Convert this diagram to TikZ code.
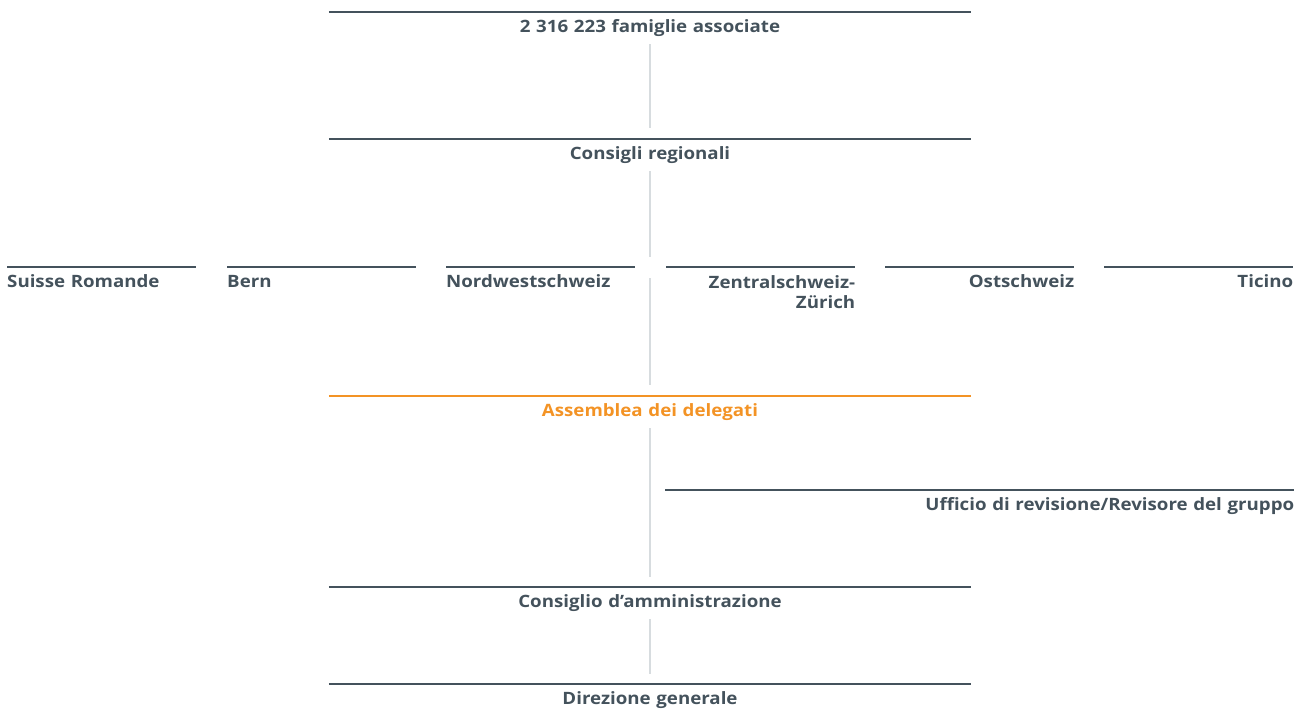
\documentclass[tikz,border=0pt]{standalone}
\usepackage{fontspec}
\setmainfont{Open Sans}[FakeStretch=1.1]
\usetikzlibrary{positioning}

\definecolor{slate}{HTML}{44525C}
\definecolor{delegati}{HTML}{F39325}
\definecolor{stem}{HTML}{D7DCDF}

\tikzset{
  organ/.style={anchor=north, inner xsep=0pt, inner ysep=8pt, text=slate,
    font=\bfseries\fontsize{17}{20.5}\selectfont},
  level/.style={organ, text width=642pt, align=center, text height=12pt, text depth=4pt},
  regionwrap/.style={organ, anchor=north west, text width=189pt},
  region/.style={regionwrap, text height=12pt, text depth=4pt},
  rule/.style={draw=slate, line width=2.6pt},
  stemline/.style={draw=stem, line width=2.4pt},
}

\begin{document}
\begin{tikzpicture}[x=1pt,y=-1pt]
\useasboundingbox (0,0) rectangle (1306,710);

% central column
\node[level] (fam) at (650,12) {2 316 223 famiglie associate};
\node[level] (cons) at (650,139) {Consigli regionali};
\node[level, text=delegati] (ad) at (650,396) {Assemblea dei delegati};
\node[level] (cda) at (650,587) {Consiglio d’amministrazione};
\node[level] (dg) at (650,684) {Direzione generale};

% regional councils
\node[region, align=left] (sr) at (7,267) {Suisse Romande};
\node[region, align=left] (be) at (227,267) {Bern};
\node[region, align=left] (nw) at (446,267) {Nordwestschweiz};
\node[regionwrap, align=right] (zz) at (666,267) {Zentralschweiz-\\Zürich};
\node[region, align=right] (os) at (885,267) {Ostschweiz};
\node[region, align=right] (ti) at (1104,267) {Ticino};

% auditors
\node[organ, anchor=north west, text width=629pt, align=right, text height=12pt, text depth=4pt] (rev) at (665,490) {Ufficio di revisione/Revisore del gruppo};

\coordinate (gap) at (650,267);

\draw[stemline, shorten >=11pt] (fam.south) -- (cons.north);
\draw[stemline] (cons.south) -- ([yshift=10pt]gap);
\draw[stemline, shorten >=11pt] ([yshift=-11pt]gap) -- (ad.north);
\draw[stemline, shorten >=10pt] (ad.south) -- (cda.north);
\draw[stemline, shorten >=10pt] (cda.south) -- (dg.north);

\draw[rule] (fam.north west) -- (fam.north east);
\draw[rule] (cons.north west) -- (cons.north east);
\draw[rule, draw=delegati] (ad.north west) -- (ad.north east);
\draw[rule] (cda.north west) -- (cda.north east);
\draw[rule] (dg.north west) -- (dg.north east);
\draw[rule] (rev.north west) -- (rev.north east);

\draw[rule] (sr.north west) -- (sr.north east);
\draw[rule] (be.north west) -- (be.north east);
\draw[rule] (nw.north west) -- (nw.north east);
\draw[rule] (zz.north west) -- (zz.north east);
\draw[rule] (os.north west) -- (os.north east);
\draw[rule] (ti.north west) -- (ti.north east);

\end{tikzpicture}
\end{document}
